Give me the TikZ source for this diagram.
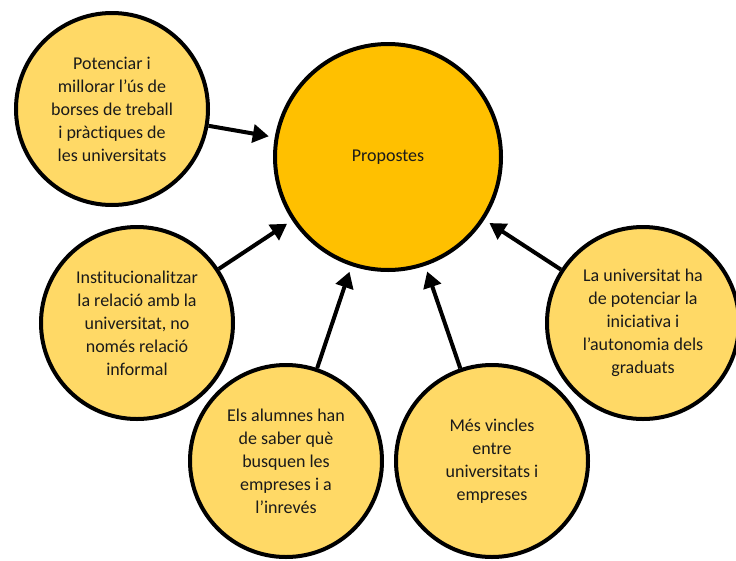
\documentclass[tikz,border=0pt]{standalone}
\usepackage{fontspec}
\setmainfont{Carlito}[Ligatures={NoCommon}]
\usetikzlibrary{arrows.meta}
\definecolor{goldc}{HTML}{FFC000}
\definecolor{goldl}{HTML}{FFD966}
\definecolor{txt}{HTML}{1A1A1A}
\tikzset{
  idea/.style={circle, draw=black, line width=4pt, fill=goldl, minimum size=192pt,
    inner sep=0pt, align=center, text=txt,
    font=\fontsize{18pt}{23pt}\selectfont},
  hub/.style={circle, draw=black, line width=4pt, fill=goldc, minimum size=226pt,
    inner sep=0pt, align=center, text=txt,
    font=\fontsize{18pt}{23pt}\selectfont},
  link/.style={line width=4pt, -{Triangle[length=16pt,width=18pt]}, shorten >=6pt}
}
\begin{document}
\begin{tikzpicture}[x=1pt,y=-1pt]
\useasboundingbox[fill=white] (0,0) rectangle (736,560);
\node[hub] (c) at (388,157) {Propostes};
\node[idea] (tl) at (112,109) {Potenciar i\\millorar l’ús de\\borses de treball\\i pràctiques de\\les universitats};
\node[idea] (lm) at (137,323) {Institucionalitzar\\la relació amb la\\universitat, no\\només relació\\informal};
\node[idea] (bl) at (286,461) {Els alumnes han\\de saber què\\busquen les\\empreses i a\\l’inrevés};
\node[idea] (br) at (492,461) {Més vincles\\entre\\universitats i\\empreses};
\node[idea] (rt) at (643,323) {La universitat ha\\de potenciar la\\iniciativa i\\l’autonomia dels\\graduats};
\draw[link] (tl) -- (c);
\draw[link] (lm) -- (c);
\draw[link] (bl) -- (c);
\draw[link] (br) -- (c);
\draw[link] (rt) -- (c);
\end{tikzpicture}
\end{document}
